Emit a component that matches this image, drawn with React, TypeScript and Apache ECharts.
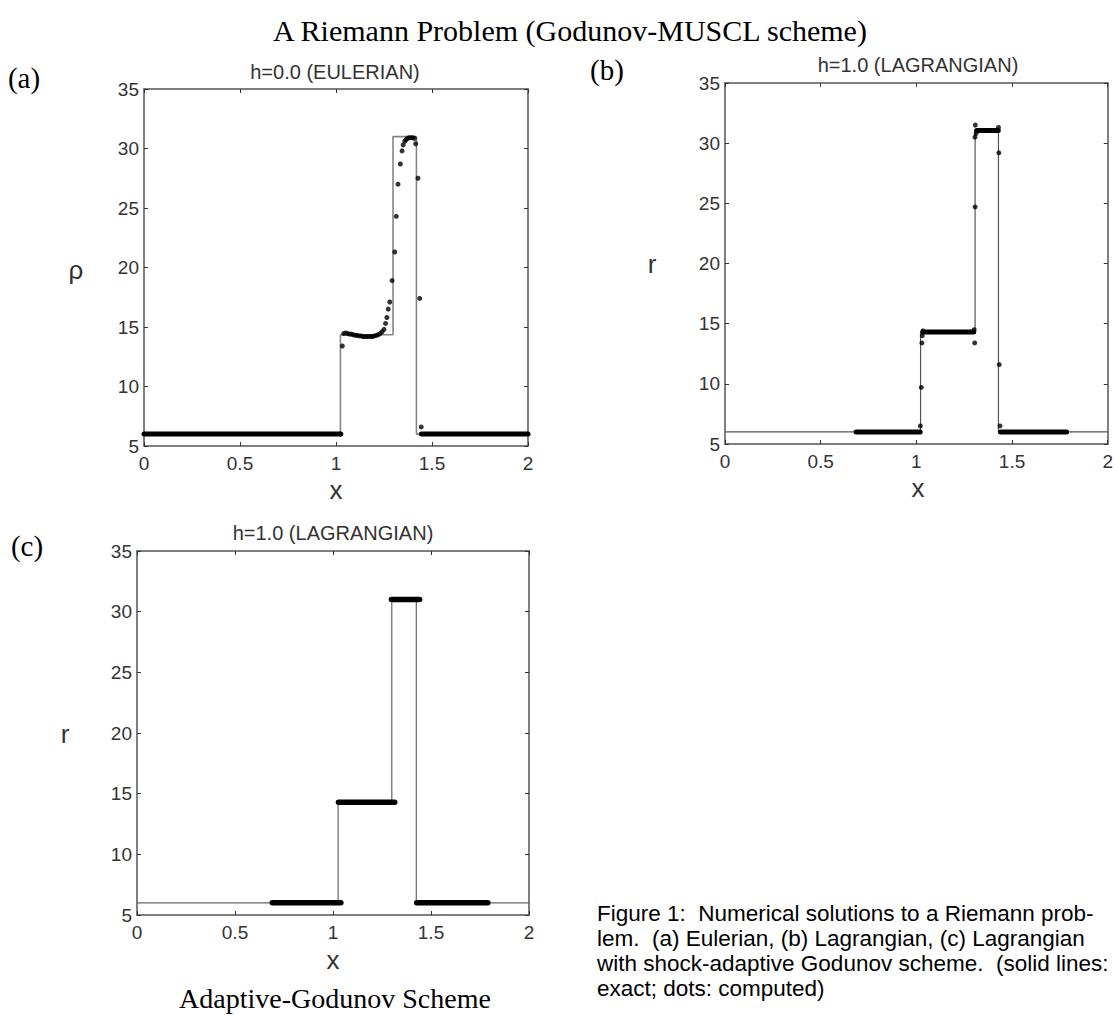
import React, { useEffect, useRef } from "react";
import * as echarts from "echarts";

// ---- axis ranges / ticks ----
const xMin = 0;
const xMax = 2;
const xStep = 0.5;
const yMin = 5;
const yMax = 35;
const yStep = 5;

// ---- exact solutions (step profiles) ----
const exactA_x = [0, 1.023, 1.023, 1.297, 1.297, 1.419, 1.419, 2];
const exactA_y = [6, 6, 14.35, 14.35, 31.0, 31.0, 6, 6];
const exactB_x = [0, 1.022, 1.022, 1.307, 1.307, 1.429, 1.429, 2];
const exactB_y = [6, 6, 14.3, 14.3, 31.0, 31.0, 6, 6];
const exactC_x = [0, 1.026, 1.026, 1.3, 1.3, 1.425, 1.425, 2];
const exactC_y = [6, 6, 14.3, 14.3, 31.0, 31.0, 6, 6];

// ---- computed: dense runs of cells (drawn as thick bands) ----
const bandA_start = [0, 1.445];
const bandA_end = [1.025, 2];
const bandA_level = [6, 6];

const bandB_start = [0.685, 1.035, 1.315, 1.44];
const bandB_end = [1.02, 1.3, 1.428, 1.785];
const bandB_level = [6, 14.3, 31.05, 6];

const bandC_start = [0.69, 1.028, 1.298, 1.427];
const bandC_end = [1.04, 1.315, 1.442, 1.79];
const bandC_level = [6, 14.3, 31.0, 6];

// ---- computed: individual cells ----
const dotsA_x = [1.023, 1.033, 1.04, 1.05, 1.06, 1.07, 1.08, 1.09, 1.1, 1.11, 1.12, 1.13, 1.14, 1.15, 1.16, 1.17, 1.18, 1.19, 1.2, 1.21, 1.22, 1.23, 1.24, 1.25, 1.258, 1.265, 1.272, 1.28, 1.292, 1.306, 1.314, 1.323, 1.335, 1.344, 1.35, 1.358, 1.365, 1.372, 1.38, 1.39, 1.4, 1.408, 1.415, 1.427, 1.436, 1.444];
const dotsA_y = [6.0, 13.4, 14.45, 14.5, 14.45, 14.4, 14.4, 14.35, 14.3, 14.3, 14.25, 14.25, 14.2, 14.2, 14.2, 14.2, 14.2, 14.2, 14.25, 14.3, 14.35, 14.45, 14.6, 14.8, 15.3, 15.8, 16.5, 17.1, 18.9, 21.3, 24.3, 27.0, 28.7, 29.8, 30.3, 30.6, 30.75, 30.85, 30.9, 30.9, 30.9, 30.85, 30.4, 27.5, 17.4, 6.6];

const dotsB_x = [1.021, 1.026, 1.029, 1.031, 1.034, 1.302, 1.305, 1.307, 1.306, 1.308, 1.312, 1.429, 1.431, 1.433, 1.437];
const dotsB_y = [6.5, 9.7, 13.4, 14.0, 14.4, 14.5, 13.4, 24.7, 30.5, 31.5, 30.8, 31.3, 29.2, 11.6, 6.5];

// ---- texts ----
const mainTitle = "A Riemann Problem (Godunov-MUSCL scheme)";
const panelTitles = ["h=0.0 (EULERIAN)", "h=1.0 (LAGRANGIAN)", "h=1.0 (LAGRANGIAN)"];
const panelTags = ["(a)", "(b)", "(c)"];
const yNames = ["ρ", "r", "r"];
const xName = "x";
const bottomTitle = "Adaptive-Godunov Scheme";
const captionLines = [
  "Figure 1:  Numerical solutions to a Riemann prob-",
  "lem.  (a) Eulerian, (b) Lagrangian, (c) Lagrangian",
  "with shock-adaptive Godunov scheme.  (solid lines:",
  "exact; dots: computed)",
];

const SANS = "'Liberation Sans', Arial, sans-serif";
const SERIF = "'Liberation Serif', 'Times New Roman', serif";

const grids = [
  { left: 144, top: 89, width: 384, height: 357 },
  { left: 725, top: 83, width: 385, height: 361 },
  { left: 137, top: 551, width: 392, height: 364 },
];

function makeAxes(gi: number) {
  const line = { show: true, onZero: false, lineStyle: { color: "#555", width: 1.5 } };
  const tick = { show: true, inside: true, length: 4, lineStyle: { color: "#333", width: 1 } };
  const lab = { color: "#333", fontSize: 19, fontFamily: SANS };
  const xBase = { gridIndex: gi, type: "value", min: xMin, max: xMax, interval: xStep, splitLine: { show: false }, axisLine: line, axisTick: tick };
  const yBase = { gridIndex: gi, type: "value", min: yMin, max: yMax, interval: yStep, splitLine: { show: false }, axisLine: line, axisTick: tick };
  return {
    x: [
      { ...xBase, position: "bottom", axisLabel: { ...lab, margin: 8 } },
      { ...xBase, position: "top", axisLabel: { show: false } },
    ],
    y: [
      { ...yBase, position: "left", axisLabel: { ...lab, margin: 5 } },
      { ...yBase, position: "right", axisLabel: { show: false } },
    ],
  };
}

function panelSeries(
  gi: number,
  exX: number[],
  exY: number[],
  exColor: string,
  exWidth: number,
  bs: number[],
  be: number[],
  bl: number[],
  bandWidth: number,
  dx: number[] | null,
  dy: number[] | null
) {
  const xi = gi * 2;
  const yi = gi * 2;
  const out: any[] = [];
  out.push({
    type: "line",
    xAxisIndex: xi,
    yAxisIndex: yi,
    data: exX.map((x, i) => [x, exY[i]]),
    showSymbol: false,
    symbol: "none",
    lineStyle: { color: exColor, width: exWidth },
    z: 2,
    silent: true,
  });
  bs.forEach((s, i) => {
    out.push({
      type: "line",
      xAxisIndex: xi,
      yAxisIndex: yi,
      data: [
        [s, bl[i]],
        [be[i], bl[i]],
      ],
      showSymbol: false,
      symbol: "none",
      lineStyle: { color: "#000", width: bandWidth, cap: "round" },
      z: 3,
      silent: true,
    });
  });
  if (dx && dy) {
    out.push({
      type: "scatter",
      xAxisIndex: xi,
      yAxisIndex: yi,
      data: dx.map((x, i) => [x, dy[i]]),
      symbol: "circle",
      symbolSize: 5,
      itemStyle: { color: "#000" },
      z: 4,
      silent: true,
    });
  }
  return out;
}

function txt(text: string, x: number, y: number, font: string, fill: string, align = "center") {
  return {
    type: "text",
    x,
    y,
    silent: true,
    style: { text, font, fill, textAlign: align, textVerticalAlign: "middle" },
  };
}

export default function App() {
  const ref = useRef<HTMLDivElement>(null);
  useEffect(() => {
    if (!ref.current) return;
    const chart = echarts.init(ref.current, null, { renderer: "svg" });
    const axes = [0, 1, 2].map(makeAxes);
    const xAxis = axes.flatMap((a) => a.x);
    const yAxis = axes.flatMap((a) => a.y);
    const series = [
      ...panelSeries(0, exactA_x, exactA_y, "#858585", 1.6, bandA_start, bandA_end, bandA_level, 5, dotsA_x, dotsA_y),
      ...panelSeries(1, exactB_x, exactB_y, "#555", 1.2, bandB_start, bandB_end, bandB_level, 5, dotsB_x, dotsB_y),
      ...panelSeries(2, exactC_x, exactC_y, "#666", 1.2, bandC_start, bandC_end, bandC_level, 5.5, null, null),
    ];
    const serifFont = `30px ${SERIF}`;
    const tagFont = `29px ${SERIF}`;
    const bottomFont = `28px ${SERIF}`;
    const titleFont = `20px ${SANS}`;
    const nameFont = `26px ${SANS}`;
    const capFont = `22.5px ${SANS}`;
    const graphic: any[] = [
      txt(mainTitle, 570, 30, serifFont, "#000"),
      txt(panelTags[0], 24, 78, tagFont, "#000"),
      txt(panelTags[1], 607, 70, tagFont, "#000"),
      txt(panelTags[2], 27, 546, tagFont, "#000"),
      txt(panelTitles[0], 335, 72, titleFont, "#333"),
      txt(panelTitles[1], 918, 65, titleFont, "#333"),
      txt(panelTitles[2], 333, 533, titleFont, "#333"),
      txt(yNames[0], 76, 270, nameFont, "#333"),
      txt(yNames[1], 652, 264, nameFont, "#333"),
      txt(yNames[2], 65, 734, nameFont, "#333"),
      txt(xName, 336, 490, nameFont, "#333"),
      txt(xName, 918, 488, nameFont, "#333"),
      txt(xName, 333, 960, nameFont, "#333"),
      txt(bottomTitle, 335, 998, bottomFont, "#000"),
      ...captionLines.map((l, i) => txt(l, 597, 913 + i * 25, capFont, "#000", "left")),
    ];
    chart.setOption({
      animation: false,
      backgroundColor: "#fff",
      grid: grids,
      xAxis,
      yAxis,
      series,
      graphic,
    });
    return () => chart.dispose();
  }, []);
  return <div ref={ref} style={{ position: "absolute", left: 0, top: 0, width: 1116, height: 1017 }} />;
}
